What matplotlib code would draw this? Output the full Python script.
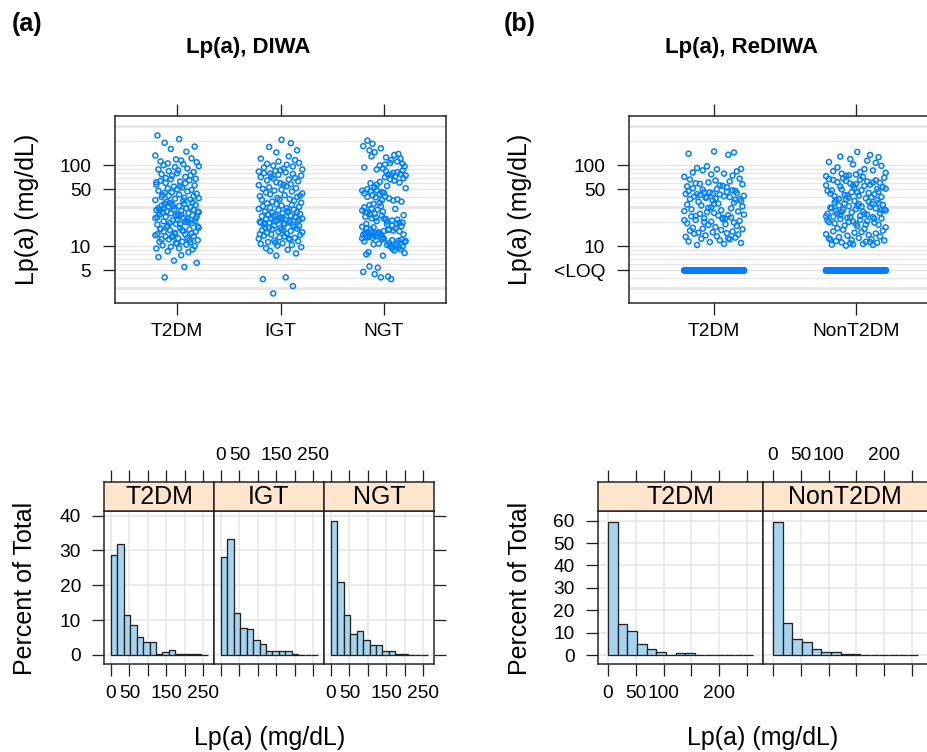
import numpy as np
import matplotlib
matplotlib.use("Agg")
import matplotlib.pyplot as plt
from matplotlib.ticker import NullLocator
from matplotlib import font_manager

plt.rcParams["font.family"] = ["Liberation Sans", "DejaVu Sans"]

# ---------------- data ----------------
diwa_groups = ["T2DM", "IGT", "NGT"]
rediwa_groups = ["T2DM", "NonT2DM"]

diwa_t2dm = [4.1, 5.5, 6.2, 6.6, 7.3, 7.7, 8.4, 8.6, 9.1, 9.3, 9.4, 9.8,
             10.0, 10.2, 10.4, 10.9, 11.1, 11.3, 11.3, 11.8, 12.1, 12.1, 12.5, 12.6, 13.1, 13.2,
             13.4, 13.9, 14.0, 14.4, 14.5, 15.0, 15.1, 15.3, 15.8, 16.0, 16.2, 16.7, 16.8, 17.1,
             10.7, 12.9, 13.6, 15.6, 16.4, 11.9, 14.1,
             17.5, 17.9, 18.4, 18.6, 19.1, 19.3, 19.9, 20.2, 20.4, 20.8, 21.2, 21.8, 22.1, 22.3,
             22.9, 23.1, 23.7, 23.9, 24.5, 24.7, 25.3, 25.5, 26.1, 26.2, 26.9, 27.1, 27.8, 28.1,
             28.4, 29.2, 29.4, 30.1, 30.6, 31.2, 31.4, 32.1, 32.7, 33.2, 33.4, 34.1, 34.6, 18.8,
             20.6, 22.7, 24.3, 26.5, 28.9, 30.9, 19.5, 23.4, 27.5, 22.0,
             35.1, 36.2, 36.9, 37.4, 38.3, 39.4, 40.2, 41.3, 41.8, 43.2, 44.1, 45.3, 45.9, 47.2,
             48.1, 49.3, 50.2, 51.4, 38.9, 42.6,
             52.8, 54.1, 56.3, 57.2, 59.4, 60.1, 62.3, 63.8, 64.6, 66.9, 67.7, 69.2, 55.4, 61.2,
             71.3, 73.6, 74.8, 77.2, 79.1, 81.9, 84.3, 86.2,
             88.4, 90.7, 94.2, 96.8, 99.5, 102.6,
             104.8, 108.3, 110.9, 113.6, 117.4, 120.8,
             131, 146, 158, 169, 188, 209, 232]

diwa_igt = [2.6, 3.2, 3.9, 4.1, 7.6, 8.1, 8.7, 9.0, 9.4, 9.7,
            10.1, 10.3, 10.6, 10.8, 11.2, 11.5, 11.7, 12.0, 12.3, 12.6, 12.8, 13.1, 13.4, 13.7,
            13.9, 14.2, 14.5, 14.8, 15.1, 15.3, 15.6, 15.9, 16.2, 16.4, 16.7, 17.0, 17.3, 11.0,
            12.4, 14.0, 15.5, 16.9,
            17.6, 17.9, 18.2, 18.5, 18.9, 19.2, 19.6, 19.9, 20.3, 20.7, 21.0, 21.4, 21.8, 22.1,
            22.5, 22.9, 23.3, 23.7, 24.1, 24.5, 24.9, 25.4, 25.8, 26.3, 26.7, 27.2, 27.7, 28.2,
            28.7, 29.3, 29.8, 30.4, 31.0, 31.6, 32.2, 32.9, 33.6, 34.3, 18.7, 19.4, 20.5, 21.6,
            22.7, 23.5, 24.3, 26.0, 20.1, 21.2, 19.0, 22.3,
            35.3, 36.1, 37.2, 38.0, 39.1, 40.3, 41.2, 42.4, 43.5, 44.6, 45.8, 47.1, 48.3, 49.6,
            50.8, 51.7, 37.7, 41.9,
            53.2, 54.8, 56.5, 58.1, 59.6, 61.4, 62.9, 64.7, 66.3, 68.2, 69.5, 57.3,
            70.9, 72.4, 74.1, 75.8, 77.6, 79.3, 81.2, 83.0, 84.8, 86.4, 78.5,
            88.2, 90.5, 93.1, 95.7, 98.2, 100.9, 103.4,
            106.2, 110.5, 115.1, 119.8,
            128, 143, 152, 167, 186, 205]

diwa_ngt = [3.9, 4.1, 4.2, 4.5, 4.8, 5.4, 5.6, 7.6, 7.9, 8.2, 8.4, 8.8, 9.1, 9.3, 9.6, 9.8,
            10.0, 10.2, 10.3, 10.5, 10.7, 10.9, 11.0, 11.2, 11.4, 11.6, 11.8, 12.0, 12.2, 12.4,
            12.6, 12.8, 13.0, 13.2, 13.4, 13.6, 13.8, 14.0, 14.2, 14.4, 14.6, 14.8, 15.0, 15.2,
            15.5, 15.8, 16.1, 16.4, 16.7, 17.0, 17.3, 12.1, 12.9, 13.3, 13.9, 14.3, 14.7, 15.3,
            11.5, 16.0,
            17.6, 18.0, 18.5, 19.0, 19.5, 20.0, 20.6, 21.2, 21.8, 22.4, 23.0, 23.7, 24.4, 25.1,
            25.8, 26.6, 27.4, 28.2, 29.1, 30.0, 31.0, 32.0, 33.1, 34.2, 18.8, 20.3, 22.1, 24.0,
            26.2, 28.7, 19.3, 21.5,
            35.4, 36.5, 37.6, 38.7, 39.9, 41.1, 42.3, 43.6, 44.9, 46.2, 47.6, 49.0, 50.4, 51.8,
            45.5, 48.3, 40.5, 37.0,
            53.1, 55.2, 57.4, 59.7, 61.9, 64.2, 66.5, 68.8, 60.6,
            70.8, 72.5, 74.3, 76.1, 78.0, 79.8, 81.7, 83.6, 85.5, 75.2,
            88.0, 90.6, 93.3, 96.0, 98.7, 101.4, 103.6,
            106, 111, 115, 120, 124, 128, 133, 137, 144, 152, 161, 171, 183, 200]

rediwa_t2dm = [10.3, 10.6, 10.9, 11.2, 11.4, 11.8, 12.1, 12.3, 12.7, 13.0, 13.2, 13.5, 13.9,
               14.2, 14.4, 14.8, 15.1, 15.5, 15.8, 16.1, 16.4, 16.8, 17.1, 12.5, 14.6,
               17.7, 18.2, 18.6, 19.1, 19.5, 20.0, 20.5, 21.0, 21.5, 22.0, 22.6, 23.2, 23.8,
               24.4, 25.0, 25.6, 26.3, 27.0, 27.7, 28.4, 29.2, 30.0, 30.8, 31.6, 32.5, 33.4,
               34.3, 19.8, 21.8, 23.5, 26.7, 29.6, 33.0, 24.1, 20.8, 22.3,
               35.2, 35.9, 36.6, 37.3, 38.0, 38.7, 39.4, 40.1, 40.9, 41.7, 42.5, 43.3, 44.1,
               45.0, 45.9, 46.8, 47.7, 48.6, 49.6, 50.6, 51.6, 37.8, 39.9, 41.2, 43.8, 46.2,
               48.0, 44.6,
               53.0, 54.5, 56.1, 57.8, 59.4, 61.0, 62.7, 64.4, 66.2, 68.0, 58.5, 55.3,
               71.5, 74.0, 76.6, 78.3, 80.8, 83.5, 86.0,
               88.5, 89.6, 92.0, 96.5,
               134, 138, 143, 147]

rediwa_non = [10.1, 10.3, 10.4, 10.6, 10.8, 11.0, 11.1, 11.3, 11.5, 11.7, 11.9, 12.1, 12.4,
              12.6, 12.9, 13.1, 13.4, 13.7, 14.0, 14.3, 14.6, 14.9, 15.2, 15.5, 15.9, 16.2,
              16.6, 17.0, 10.5, 11.2, 12.0,
              17.6, 17.9, 18.3, 18.7, 19.1, 19.5, 19.9, 20.3, 20.7, 21.1, 21.5, 21.9, 22.3,
              22.7, 23.1, 23.5, 24.0, 24.5, 25.0, 25.5, 26.0, 26.5, 27.0, 27.5, 28.0, 28.6,
              29.2, 29.8, 30.4, 31.0, 31.6, 32.2, 32.8, 33.4, 34.0, 34.6, 18.5, 20.1, 21.7,
              23.3, 24.8, 26.3, 27.8, 29.5, 31.3, 33.1, 22.5, 25.2, 28.3, 30.7, 19.7,
              35.3, 36.0, 36.7, 37.4, 38.1, 38.8, 39.5, 40.3, 41.1, 41.9, 42.7, 43.5, 44.4,
              45.3, 46.2, 47.1, 48.0, 49.0, 50.0, 51.0, 37.0, 39.9, 42.2, 45.7, 48.6, 50.6,
              52.5, 53.4, 54.3, 55.2, 56.2, 57.2, 58.2, 59.2, 60.3, 61.4, 62.5, 63.6, 64.8,
              66.0, 67.2, 68.5, 69.7, 55.8, 60.9, 65.3,
              71.0, 72.8, 74.6, 76.4, 78.2, 80.1, 82.0, 83.9, 85.8, 73.5,
              89.0, 93.5, 97.6, 101.8,
              106.5, 109.0, 113.0, 118.5,
              125, 127, 133, 145]

rediwa_t2dm_loq_count = 139
rediwa_non_loq_count = 170
loq_plot_value = 5

jitter_pct = [-12, 7, 19, -3, -18, 4, 11, -9, 15, -20, 2, -6, 17, -14, 9, -1, 13, -17, 5, 20,
              -8, -15, 1, 10, -11, 16, -4, 8, -19, 14, -2, 18, -13, 6, -7, 12, -16, 3, 21, -10,
              0, -5, -21,
              5, -16, 12, -2, 20, -9, -19, 3, 14, -7, 8, -13, 17, -4, 0, 10, -21, 6, -11, 19,
              -1, 15, -17, 1, -6, 11, -14, 21, -10, 4, -20, 16, -3, 9, -18, 13, -8, 2, -15, 18,
              -5, 7, -12,
              -7, 15, -1, 9, -19, 4, 20, -13, -4, 11, 1, -17, 18, -10, 6, -21, 13, -2, 7, -15,
              16, -8, 2, 19, -12, -5, 10, -18, 14, 0, -9, 21, -14, 5, -3, 17, -20, 8, -11, 3,
              -16, 12, -6,
              18, -11, 3, -20, 8, -5, 13, -15, 0, 16, -8, 1, -18, 10, -2, 21, -13, 6, -9, 19,
              -16, 4, -1, 14, -21, 9, -6, 17, -12, 2, -19, 11, -3, 20, -14, 7, -10, 15, -4, 5,
              -17, 12, -7]

scatter_grid = [3, 4, 5, 6, 7, 8, 9, 10, 20, 30, 40, 50, 60, 70, 80, 90, 100, 200, 300]
scatter_grid_strong = [3, 30, 300]
diwa_yticks = [5, 10, 50, 100]
diwa_yticklabels = ["5", "10", "50", "100"]
rediwa_yticks = [5, 10, 50, 100]
rediwa_yticklabels = ["<LOQ", "10", "50", "100"]

hist_breaks = [0, 17.4, 34.8, 52.2, 69.6, 87.0, 104.4, 121.8, 139.2, 156.6, 174.0,
               191.4, 208.8, 226.2, 243.6, 261.0]
hist_diwa_t2dm = [28.7, 31.7, 11.6, 8.6, 5.2, 3.6, 3.6, 0.4, 0.9, 1.3, 0.4, 0.4, 0.4, 0.4, 0.0]
hist_diwa_igt = [28.0, 33.2, 12.1, 7.8, 7.4, 4.4, 3.0, 1.0, 1.0, 1.0, 1.0, 0.3, 0.0, 0.0, 0.0]
hist_diwa_ngt = [38.4, 21.0, 11.6, 5.9, 6.9, 4.3, 2.8, 2.8, 1.0, 1.0, 0.4, 0.4, 0.0, 0.0, 0.0]
hist_rediwa_t2dm = [59.5, 14.0, 10.8, 4.8, 2.9, 1.4, 0.0, 0.7, 0.7, 0.0, 0.0, 0.0, 0.0, 0.0, 0.0]
hist_rediwa_non = [59.6, 14.3, 7.2, 5.6, 2.8, 1.3, 1.3, 0.6, 0.3, 0.0, 0.0, 0.0, 0.0, 0.0, 0.0]

hist_xticks = [0, 50, 100, 150, 200, 250]
hist_diwa_xlabels = ["0", "50", "", "150", "", "250"]
hist_rediwa_xlabels = ["0", "50", "100", "", "200", ""]
hist_diwa_yticks = [0, 10, 20, 30, 40]
hist_rediwa_yticks = [0, 10, 20, 30, 40, 50, 60]

# ---------------- style ----------------
W, H = 928, 752
POINT = "#0080ff"
GRID = "#e6e6e6"
FRAME = "#222222"
BAR = "#a6d4ef"
STRIP = "#ffe5cc"
TICKLEN = 8.6
PX = 0.72  # points per pixel
TICKFS = 13.8
MS = 13
MLW = 1.1


def bold_font(size):
    # pick the regular-width Liberation Sans Bold file (avoid the Narrow variant)
    for path in font_manager.findSystemFonts():
        name = path.split("/")[-1]
        if name == "LiberationSans-Bold.ttf":
            return font_manager.FontProperties(fname=path, size=size)
    return font_manager.FontProperties(family=["Liberation Sans", "DejaVu Sans"],
                                       weight="bold", stretch="normal", size=size)


fig = plt.figure(figsize=(W / 100, H / 100), dpi=100)


def px_axes(x0, y0, x1, y1):
    return fig.add_axes([x0 / W, 1 - y1 / H, (x1 - x0) / W, (y1 - y0) / H])


def ftext(x, y, s, **kw):
    fig.text(x / W, 1 - y / H, s, ha="center", va="center", **kw)


def frame(ax):
    for sp in ax.spines.values():
        sp.set_color(FRAME)
        sp.set_linewidth(1.5 * PX)


jit = np.array(jitter_pct) / 100.0
jit_orders = [jit, jit[::-1], np.concatenate([jit[1::2], jit[::2]])]


def scatter_panel(ax, groups, data, yticks, yticklabels, loq_counts=None):
    n = len(groups)
    ax.set_yscale("log")
    ax.set_xlim(0.4, n + 0.6)
    ax.set_ylim(1.98, 403)
    for g in scatter_grid:
        ax.axhline(g, color=GRID, lw=(2.6 if g in scatter_grid_strong else 1.3) * PX, zorder=0)
    for i, vals in enumerate(data):
        j = jit_orders[i % 3]
        vals = np.asarray(vals, float)
        ax.scatter(i + 1 + j[:len(vals)], vals, s=MS, facecolors="none",
                   edgecolors=POINT, linewidths=MLW, zorder=3)
        if loq_counts is not None:
            c = loq_counts[i]
            ax.scatter(i + 1 + jit[:c], np.full(c, loq_plot_value), s=MS, facecolors="none",
                       edgecolors=POINT, linewidths=MLW, zorder=3)
    ax.set_xticks(range(1, n + 1))
    ax.set_xticklabels(groups, fontsize=TICKFS)
    ax.set_yticks(yticks)
    ax.set_yticklabels(yticklabels, fontsize=TICKFS)
    ax.yaxis.set_minor_locator(NullLocator())
    ax.tick_params(axis="x", top=True, bottom=True, length=TICKLEN, width=1.3 * PX,
                   color=FRAME, pad=6, direction="out")
    ax.tick_params(axis="y", left=True, right=False, length=TICKLEN, width=1.3 * PX,
                   color=FRAME, pad=8.5, direction="out")
    frame(ax)


# ---- top-left scatter
ax1 = px_axes(115, 116, 446, 303)
scatter_panel(ax1, diwa_groups, [diwa_t2dm, diwa_igt, diwa_ngt], diwa_yticks, diwa_yticklabels)
ftext(27, 209, "Lp(a) (mg/dL)", fontsize=18, rotation=90)
ftext(248, 48, "Lp(a), DIWA", fontproperties=bold_font(16))
ftext(27, 24, "(a)", fontproperties=bold_font(18))

# ---- top-right scatter
ax2 = px_axes(629, 116, 941, 303)
scatter_panel(ax2, rediwa_groups, [rediwa_t2dm, rediwa_non], rediwa_yticks, rediwa_yticklabels,
              loq_counts=[rediwa_t2dm_loq_count, rediwa_non_loq_count])
ftext(520, 209, "Lp(a) (mg/dL)", fontsize=18, rotation=90)
ftext(742, 48, "Lp(a), ReDIWA", fontproperties=bold_font(16))
ftext(520, 24, "(b)", fontproperties=bold_font(18))


# ---- histograms
def hist_group(x_left, width, names, heights, ylim, yticks, xlabels):
    n = len(names)
    edges = np.asarray(hist_breaks)
    for i, (name, h) in enumerate(zip(names, heights)):
        x0 = x_left + i * width
        ax = px_axes(x0, 511, x0 + width, 664)
        sax = px_axes(x0, 481.7, x0 + width, 511)
        ax.set_xlim(-18.5, 278.5)
        sax.set_xlim(-18.5, 278.5)
        ax.set_ylim(*ylim)
        sax.set_ylim(0, 1)
        ax.set_axisbelow(True)
        ax.grid(True, color=GRID, lw=1.5 * PX)
        ax.bar(edges[:-1], h, width=np.diff(edges), align="edge", color=BAR,
               edgecolor=FRAME, linewidth=1.3 * PX, zorder=3)
        ax.set_xticks(hist_xticks)
        ax.set_xticklabels(xlabels if i % 2 == 0 else [""] * len(xlabels), fontsize=TICKFS)
        ax.tick_params(axis="x", length=TICKLEN, width=1.3 * PX, color=FRAME, pad=6.5,
                       direction="out")
        ax.set_yticks(yticks)
        if i == 0:
            ax.set_yticklabels([str(t) for t in yticks], fontsize=TICKFS)
            ax.tick_params(axis="y", left=True, right=False, length=TICKLEN,
                           width=1.3 * PX, color=FRAME, pad=8, direction="out")
        elif i == n - 1:
            ax.tick_params(axis="y", left=False, right=True, labelleft=False,
                           length=TICKLEN, width=1.3 * PX, color=FRAME, direction="out")
        else:
            ax.tick_params(axis="y", left=False, right=False, labelleft=False)
        frame(ax)
        # strip
        sax.set_facecolor(STRIP)
        sax.set_yticks([])
        sax.set_xticks(hist_xticks)
        sax.xaxis.set_ticks_position("top")
        sax.set_xticklabels(xlabels if i % 2 == 1 else [""] * len(xlabels), fontsize=TICKFS)
        sax.tick_params(axis="x", top=True, bottom=False, labeltop=True, labelbottom=False,
                        length=TICKLEN, width=1.3 * PX, color=FRAME, pad=4.5, direction="out")
        sax.text(0.5, 0.48, name, transform=sax.transAxes, ha="center", va="center",
                 fontsize=18)
        frame(sax)


hist_group(104, 110, diwa_groups, [hist_diwa_t2dm, hist_diwa_igt, hist_diwa_ngt],
           (-2.6, 41.3), hist_diwa_yticks, hist_diwa_xlabels)
ftext(25, 588, "Percent of Total", fontsize=18, rotation=90)
ftext(270, 738, "Lp(a) (mg/dL)", fontsize=18)

hist_group(597.7, 165, rediwa_groups, [hist_rediwa_t2dm, hist_rediwa_non],
           (-4.0, 64.3), hist_rediwa_yticks, hist_rediwa_xlabels)
ftext(520, 588, "Percent of Total", fontsize=18, rotation=90)
ftext(763, 738, "Lp(a) (mg/dL)", fontsize=18)

fig.savefig("out.png", dpi=100)
